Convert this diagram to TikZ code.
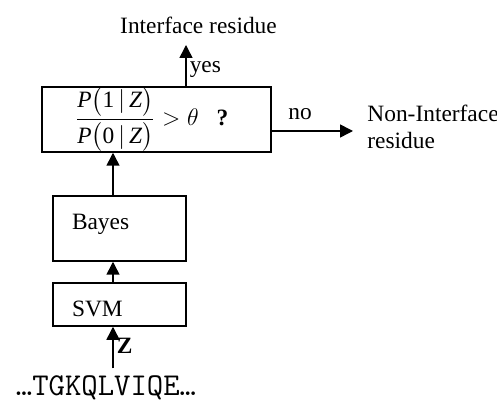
\documentclass[tikz,border=0pt]{standalone}
\usepackage{amsmath}
\usepackage{fontspec}
\setmainfont{Liberation Serif}
\usetikzlibrary{arrows.meta}
\newcommand{\vP}{\textit{P}}
\newcommand{\vZ}{\textit{Z}}

\begin{document}
\begin{tikzpicture}[x=0.5pt,y=-0.5pt,line width=0.75pt,
    font=\fontsize{11.7}{13.5}\selectfont,
    box/.style={draw,rectangle,inner ysep=0pt,align=left},
    arr/.style={-{Triangle[length=6.5pt,width=6.5pt]}}]

        \useasboundingbox (0,0) rectangle (497,405);

        % Decision box
        \node[box,text width=81.5pt,inner xsep=16.5pt,minimum height=32.5pt] (test) at (156.5,119.5)
            {$\dfrac{\vP\bigl(\textup{1}\,|\,\vZ\bigr)}{\vP\bigl(\textup{0}\,|\,\vZ\bigr)}>\theta$\hspace{9pt}\textbf{?}};

        % Classifier boxes
        \node[box,text width=47.5pt,inner xsep=9.5pt,text height=17pt,text depth=15.5pt] (bayes) at (119.5,228.5) {Bayes};
        \node[box,text width=47.5pt,inner xsep=9.5pt,text height=16.85pt,text depth=4.65pt] (svm) at (119.5,304.5) {SVM};

        % Outputs and input
        \node (iface) at (198.5,25) {Interface residue};
        \node[anchor=west,align=left] (nonint) at (360,126.5) {Non-Interface\\residue};
        \node[font=\ttfamily\fontsize{15.9}{18}\selectfont] (seq) at (106,388) {…TGKQLVIQE…};

        \coordinate (axis) at (113,0);
        \coordinate (yesend) at (186,45);
        \coordinate (noend) at (353,131);

        % Connectors
        \draw[arr] (seq.north -| axis) -- (svm.south -| axis) node[midway,right,inner xsep=1.5pt,yshift=1pt] (zlab) {\textbf{Z}};
        \draw[arr] (svm.north -| axis) -- (bayes.south -| axis);
        \draw[arr] (bayes.north -| axis) -- (test.south -| axis);
        \draw[arr] (test.north -| yesend) -- (yesend) node[pos=0.4,right,inner xsep=1.5pt] (yeslab) {yes};
        \draw[arr] (test.east |- noend) -- (noend) node[pos=0.35,above,yshift=2pt] (nolab) {no};

    \end{tikzpicture}
\end{document}
